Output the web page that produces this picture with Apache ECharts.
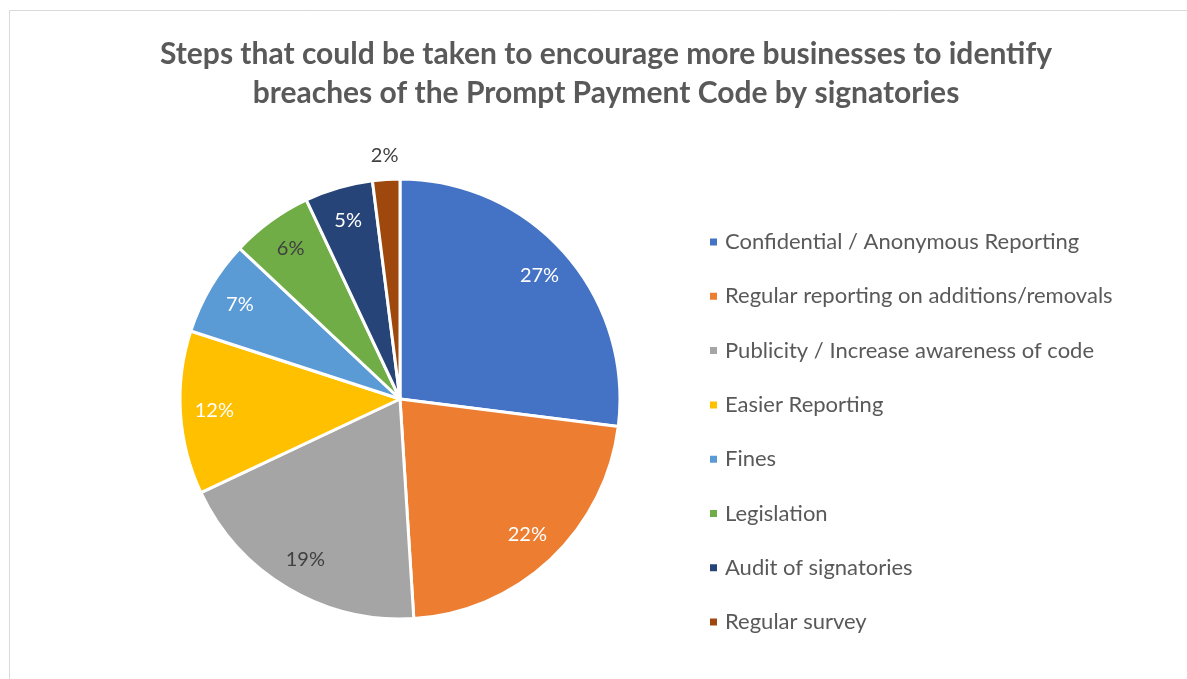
<!DOCTYPE html>
<html>
<head>
<meta charset="utf-8">
<style>
  html, body { margin: 0; padding: 0; background: #ffffff; }
  #chart { width: 1187px; height: 679px; }
</style>
<script src="https://cdn.jsdelivr.net/npm/echarts@6/dist/echarts.min.js"></script>
</head>
<body>
<div id="chart"></div>
<script>
// Survey responses: share of businesses suggesting each step
const categories = [
  'Confidential / Anonymous Reporting',
  'Regular reporting on additions/removals',
  'Publicity / Increase awareness of code',
  'Easier Reporting',
  'Fines',
  'Legislation',
  'Audit of signatories',
  'Regular survey'
];
const shares = [27, 22, 19, 12, 7, 6, 5, 2];
const sliceColors = ['#4472C4', '#ED7D31', '#A5A5A5', '#FFC000', '#5B9BD5', '#70AD47', '#264478', '#9E480E'];
const labelColors = ['#ffffff', '#ffffff', '#404040', '#ffffff', '#ffffff', '#404040', '#ffffff', '#404040'];
// slices too thin for an inside label get theirs placed beyond the rim
const outsideLabel = [false, false, false, false, false, false, false, true];

const titleText = 'Steps that could be taken to encourage more businesses to identify\nbreaches of the Prompt Payment Code by signatories';

const FONT = 'Lato, "Open Sans", sans-serif';
const CENTER = [400, 399];
const R = 220;

const chart = echarts.init(document.getElementById('chart'));

const baseData = categories.map((name, i) => ({
  name,
  value: shares[i],
  itemStyle: { color: sliceColors[i] }
}));

// Transparent helper rings that only carry the percentage labels,
// so labels sit at the desired distance from the centre.
function labelRing(outerRadius, showFn) {
  return {
    type: 'pie',
    center: CENTER,
    radius: [0, outerRadius],
    startAngle: 90,
    clockwise: true,
    silent: true,
    legendHoverLink: false,
    avoidLabelOverlap: false,
    itemStyle: { color: 'rgba(0,0,0,0)', borderWidth: 0 },
    emphasis: { disabled: true },
    labelLine: { show: false },
    data: categories.map((name, i) => ({
      name,
      value: shares[i],
      label: {
        show: showFn(i),
        position: 'inside',
        formatter: shares[i] + '%',
        color: labelColors[i],
        fontFamily: FONT,
        fontSize: 20
      }
    })),
    z: 5
  };
}

chart.setOption({
  animation: false,
  backgroundColor: '#ffffff',
  graphic: [{
    type: 'rect',
    shape: { x: 9.5, y: 10.5, width: 1200, height: 700 },
    style: { fill: 'none', stroke: '#d9d9d9', lineWidth: 1 },
    silent: true
  }],
  title: {
    text: titleText,
    left: 601,
    textAlign: 'center',
    top: 30,
    textStyle: {
      fontFamily: FONT,
      fontWeight: 'bold',
      fontSize: 30,
      lineHeight: 39,
      color: '#595959'
    }
  },
  legend: {
    orient: 'vertical',
    left: 703,
    top: 226,
    itemWidth: 9,
    itemHeight: 9,
    itemGap: 32.3,
    icon: 'rect',
    selectedMode: false,
    data: categories,
    textStyle: {
      fontFamily: FONT,
      fontSize: 22,
      color: '#595959',
      padding: [0, 0, 0, 2]
    }
  },
  series: [
    {
      type: 'pie',
      name: 'Steps',
      center: CENTER,
      radius: [0, R],
      startAngle: 90,
      clockwise: true,
      avoidLabelOverlap: false,
      itemStyle: { borderColor: '#ffffff', borderWidth: 3 },
      label: { show: false },
      labelLine: { show: false },
      emphasis: { disabled: true },
      data: baseData,
      z: 2
    },
    labelRing(366, i => !outsideLabel[i]),
    labelRing(482, i => outsideLabel[i])
  ]
});
</script>
</body>
</html>
